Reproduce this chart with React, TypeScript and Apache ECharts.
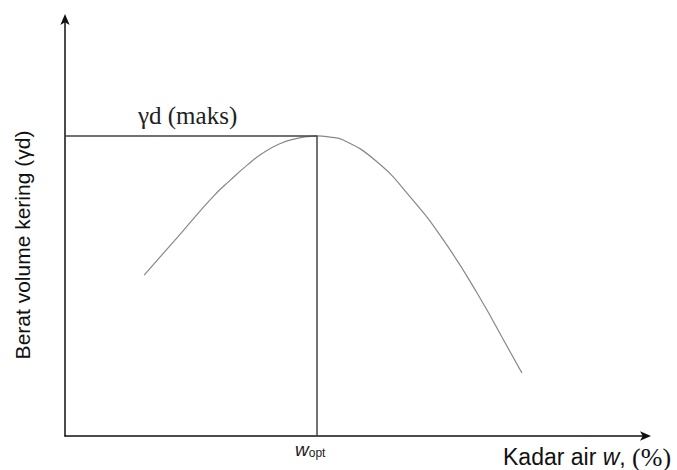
import React, { useEffect, useRef } from "react";
import * as echarts from "echarts";

// Compaction curve (relative units, 0-100 on both axes)
const waterContent = [13.6, 19.8, 25.4, 28.4, 31.3, 34.0, 36.9, 39.9, 42.1, 43.3, 45.5, 47.8, 53.6, 59.3, 65.0, 70.8, 76.5, 78.5];
const dryDensity = [38.5, 48.3, 57.2, 61.2, 64.8, 67.7, 69.9, 71.2, 71.7, 71.8, 71.5, 70.8, 65.6, 57.2, 46.9, 34.2, 20.1, 15.1];
const peakX = 43.3;
const peakY = 71.8;

export default function App() {
  const ref = useRef<HTMLDivElement>(null);
  useEffect(() => {
    if (!ref.current) return;
    const chart = echarts.init(ref.current, null, { renderer: "svg" });
    const curve = waterContent.map((x, i) => [x, dryDensity[i]]);
    const axisCommon = {
      type: "value",
      min: 0,
      max: 100,
      axisTick: { show: false },
      axisLabel: { show: false },
      splitLine: { show: false },
      axisLine: {
        show: true,
        symbol: ["none", "arrow"],
        symbolSize: [7, 11],
        symbolOffset: [0, 4],
        lineStyle: { color: "#111", width: 1.5 },
      },
    };
    chart.setOption({
      animation: false,
      backgroundColor: "#fff",
      grid: { left: 65, right: 30, top: 18, bottom: 34 },
      xAxis: { ...axisCommon },
      yAxis: { ...axisCommon },
      series: [
        {
          type: "line",
          data: curve,
          smooth: 0.5,
          showSymbol: false,
          lineStyle: { color: "#888", width: 1.2 },
        },
        {
          type: "line",
          data: [
            [0, peakY],
            [peakX, peakY],
            [peakX, 0],
          ],
          showSymbol: false,
          lineStyle: { color: "#444", width: 1.5 },
        },
      ],
      graphic: [
        {
          type: "text",
          left: 138,
          top: 103,
          style: {
            text: "γd (maks)",
            font: '25px "Liberation Serif"',
            fill: "#222",
          },
        },
        {
          type: "text",
          left: 295,
          top: 440,
          style: {
            text: "{w|w}{o|opt}",
            rich: {
              w: { fontSize: 19, fontStyle: "italic", fontFamily: "Liberation Sans", fill: "#222" },
              o: { fontSize: 12, fontFamily: "Liberation Sans", fill: "#222", verticalAlign: "bottom" },
            },
          },
        },
        {
          type: "text",
          left: 503,
          top: 444,
          style: {
            text: "{a|Kadar air }{w|w}{a|, }{p|(%)}",
            rich: {
              a: { fontSize: 23, fontFamily: "Liberation Sans", fill: "#111" },
              w: { fontSize: 23, fontStyle: "italic", fontFamily: "Liberation Sans", fill: "#111" },
              p: { fontSize: 26, fontFamily: "Liberation Serif", fill: "#111" },
            },
          },
        },
        {
          type: "text",
          x: 22,
          y: 245,
          rotation: Math.PI / 2,
          style: {
            text: "Berat volume kering (γd)",
            font: '21px "Liberation Sans"',
            fill: "#111",
            align: "center",
            verticalAlign: "middle",
          },
        },
      ],
    });
    return () => chart.dispose();
  }, []);
  return (
    <div
      ref={ref}
      style={{ position: "fixed", left: 0, top: 0, width: 677, height: 470 }}
    />
  );
}
